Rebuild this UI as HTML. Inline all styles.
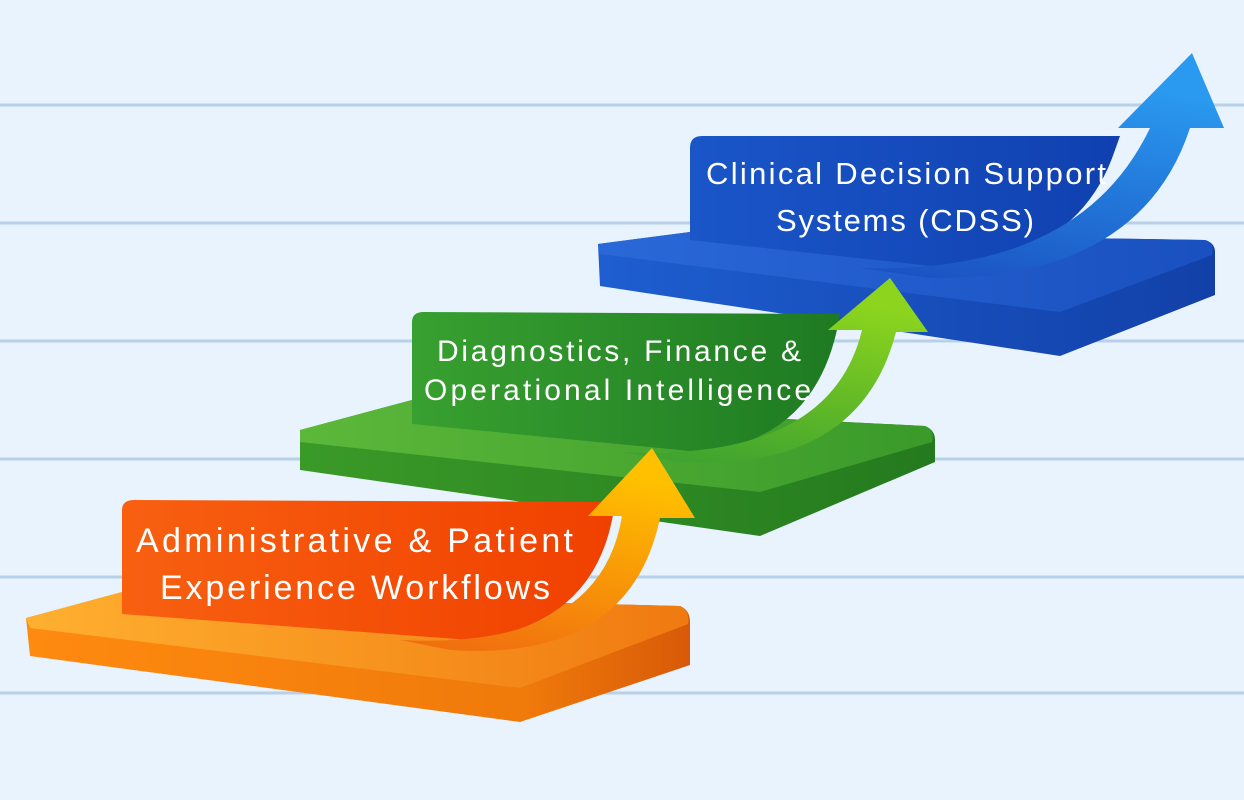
<!DOCTYPE html>
<html><head><meta charset="utf-8"><style>
html,body{margin:0;padding:0;background:#e9f3fd;}
svg{display:block}
text{font-family:"Liberation Sans",sans-serif;fill:#fff;}
</style></head><body>
<svg width="1244" height="800" viewBox="0 0 1244 800">
<defs>
<linearGradient id="oTop" x1="0" y1="0" x2="1" y2="0"><stop offset="0" stop-color="#ffb030"/><stop offset="1" stop-color="#f07a10"/></linearGradient>
<linearGradient id="oSide" x1="0" y1="0" x2="1" y2="0"><stop offset="0" stop-color="#ff8a10"/><stop offset="0.75" stop-color="#f07a0a"/><stop offset="1" stop-color="#d85a08"/></linearGradient>
<linearGradient id="oLab" x1="0" y1="0" x2="1" y2="0"><stop offset="0" stop-color="#f86010"/><stop offset="1" stop-color="#f04000"/></linearGradient>
<linearGradient id="oArr" x1="0" y1="1" x2="0.3" y2="0"><stop offset="0" stop-color="#f06a10"/><stop offset="1" stop-color="#ffc000"/></linearGradient>
<linearGradient id="gTop" x1="0" y1="0" x2="1" y2="0"><stop offset="0" stop-color="#5cb83a"/><stop offset="1" stop-color="#3a9a2a"/></linearGradient>
<linearGradient id="gSide" x1="0" y1="0" x2="1" y2="0"><stop offset="0" stop-color="#3a9a28"/><stop offset="1" stop-color="#247a1e"/></linearGradient>
<linearGradient id="gLab" x1="0" y1="0" x2="1" y2="0"><stop offset="0" stop-color="#38a030"/><stop offset="1" stop-color="#1e7a22"/></linearGradient>
<linearGradient id="gArr" x1="0" y1="1" x2="0.3" y2="0"><stop offset="0" stop-color="#3aa030"/><stop offset="1" stop-color="#8cd41e"/></linearGradient>
<linearGradient id="bTop" x1="0" y1="0" x2="1" y2="0"><stop offset="0" stop-color="#2a68d8"/><stop offset="1" stop-color="#1a50c0"/></linearGradient>
<linearGradient id="bSide" x1="0" y1="0" x2="1" y2="0"><stop offset="0" stop-color="#1e5ed0"/><stop offset="1" stop-color="#1240a8"/></linearGradient>
<linearGradient id="bLab" x1="0" y1="0" x2="1" y2="0"><stop offset="0" stop-color="#1a56c8"/><stop offset="1" stop-color="#1040b0"/></linearGradient>
<linearGradient id="bArr" x1="0" y1="1" x2="0.3" y2="0"><stop offset="0" stop-color="#1a50c0"/><stop offset="1" stop-color="#2a9af0"/></linearGradient>
</defs>
<g stroke="#b8d1e8" stroke-width="3">
<line x1="0" y1="105" x2="1244" y2="105"/><line x1="0" y1="223" x2="1244" y2="223"/>
<line x1="0" y1="341" x2="1244" y2="341"/><line x1="0" y1="459" x2="1244" y2="459"/>
<line x1="0" y1="577" x2="1244" y2="577"/><line x1="0" y1="693" x2="1244" y2="693"/>
</g>

<!-- blue step -->
<path d="M598,244 L690,232 L1205,240 Q1215,243 1215,252 L1215,295 L1060,356 L600,286 Z" fill="url(#bSide)"/>
<path d="M598,244 L690,232 L1205,240 Q1215,243 1212,255 L1060,312 L600,254 Z" fill="url(#bTop)"/>
<path d="M690,148 Q690,136 702,136 L1120,136 L1115,150 Q1080,255 950,268 L690,240 Z" fill="url(#bLab)"/>
<path d="M860,268 Q1080,275 1150,128 L1118,128 L1192,53 L1224,128 L1190,128 Q1140,280 930,278 Z" fill="url(#bArr)"/>
<text x="706" y="184" font-size="31" textLength="400" lengthAdjust="spacing">Clinical Decision Support</text>
<text x="776" y="231" font-size="31" textLength="258" lengthAdjust="spacing">Systems (CDSS)</text>

<!-- green step -->
<path d="M300,430 L412,400 L925,426 Q935,430 935,440 L935,462 L760,536 L300,470 Z" fill="url(#gSide)"/>
<path d="M300,430 L412,400 L925,426 Q935,430 932,442 L760,492 L300,442 Z" fill="url(#gTop)"/>
<path d="M412,322 Q412,312 424,312 L840,314 Q820,440 700,452 L412,424 Z" fill="url(#gLab)"/>
<path d="M620,452 Q830,462 862,330 L828,330 L890,278 L928,332 L896,332 Q860,472 680,462 Z" fill="url(#gArr)"/>
<text x="437" y="361" font-size="30" textLength="364" lengthAdjust="spacing">Diagnostics, Finance &amp;</text>
<text x="424" y="400" font-size="30" textLength="387" lengthAdjust="spacing">Operational Intelligence</text>

<!-- orange step -->
<path d="M26,618 L122,592 L680,606 Q690,610 690,622 L690,665 L520,722 L30,656 Z" fill="url(#oSide)"/>
<path d="M26,618 L122,592 L680,606 Q690,610 688,624 L520,688 L30,628 Z" fill="url(#oTop)"/>
<path d="M122,510 Q122,500 134,500 L615,502 Q600,625 470,640 L122,614 Z" fill="url(#oLab)"/>
<path d="M400,640 Q600,650 622,516 L588,516 L652,448 L695,518 L660,518 Q630,662 450,650 Z" fill="url(#oArr)"/>
<text x="136" y="552" font-size="34" textLength="437" lengthAdjust="spacing">Administrative &amp; Patient</text>
<text x="160" y="599" font-size="34" textLength="390" lengthAdjust="spacing">Experience Workflows</text>
</svg>
</body></html>
